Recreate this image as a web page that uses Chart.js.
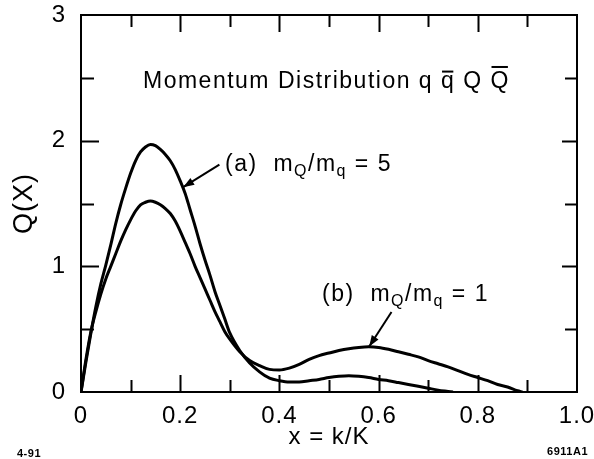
<!DOCTYPE html>
<html><head><meta charset="utf-8">
<script src="https://cdn.jsdelivr.net/npm/chart.js@4/dist/chart.umd.min.js"></script>
<style>html,body{margin:0;padding:0;background:#fff}#wrap{width:594px;height:459px;position:relative}</style>
</head><body><div id="wrap"><canvas id="c" width="594" height="459"></canvas></div>
<script>
// Curve (a): mQ/mq = 5
const xA = [0,0.01,0.02,0.03,0.04,0.05,0.06,0.07,0.08,0.09,0.10,0.11,0.12,0.13,0.14,0.15,0.16,0.17,0.18,0.19,0.20,0.21,0.22,0.23,0.24,0.25,0.26,0.27,0.28,0.29,0.30,0.32,0.34,0.36,0.38,0.40,0.42,0.44,0.46,0.48,0.50,0.52,0.54,0.56,0.58,0.60,0.62,0.64,0.66,0.68,0.70,0.72,0.74,0.75];
const qA = [0,0.24,0.47,0.68,0.86,1.01,1.17,1.34,1.49,1.62,1.74,1.84,1.91,1.95,1.97,1.96,1.93,1.89,1.84,1.77,1.68,1.58,1.45,1.32,1.18,1.05,0.93,0.80,0.69,0.58,0.47,0.33,0.23,0.16,0.11,0.09,0.08,0.08,0.09,0.10,0.115,0.125,0.13,0.125,0.115,0.10,0.09,0.075,0.06,0.045,0.03,0.015,0.005,0];
// Curve (b): mQ/mq = 1
const xB = [0,0.01,0.02,0.03,0.04,0.05,0.06,0.07,0.08,0.09,0.10,0.11,0.12,0.13,0.14,0.15,0.16,0.17,0.18,0.19,0.20,0.21,0.22,0.23,0.24,0.25,0.26,0.27,0.28,0.29,0.30,0.32,0.34,0.36,0.38,0.40,0.42,0.44,0.46,0.48,0.50,0.52,0.54,0.56,0.58,0.60,0.62,0.64,0.66,0.68,0.70,0.72,0.74,0.76,0.78,0.80,0.82,0.84,0.86,0.88,0.89];
const qB = [0,0.26,0.48,0.64,0.78,0.90,1.00,1.10,1.20,1.29,1.37,1.44,1.49,1.51,1.52,1.51,1.49,1.46,1.42,1.36,1.28,1.19,1.10,1.00,0.91,0.82,0.73,0.64,0.56,0.48,0.42,0.32,0.25,0.21,0.18,0.175,0.19,0.22,0.26,0.29,0.31,0.33,0.345,0.355,0.36,0.355,0.34,0.32,0.30,0.28,0.25,0.225,0.20,0.17,0.14,0.115,0.09,0.06,0.04,0.01,0];

const xTickValues = [0,0.2,0.4,0.6,0.8,1.0];
const xTickLabels = ['0','0.2','0.4','0.6','0.8','1.0'];
const xMinorTicks = [0.1,0.2,0.3,0.4,0.5,0.6,0.7,0.8,0.9];
const yTickValues = [0,1,2,3];
const yTickLabels = ['0','1','2','3'];
const yMinorTicks = [0.5,1,1.5,2,2.5];
const xTitle = 'x = k/K';
const yTitle = 'Q(X)';

const FONT = "'Liberation Sans', Arial, Helvetica, sans-serif";

function richText(ctx, x, y, parts, size, subSize, subDrop) {
  let cx = x;
  ctx.textBaseline = 'alphabetic';
  ctx.textAlign = 'left';
  ctx.letterSpacing = '1.5px';
  for (const p of parts) {
    const s = p.sub ? subSize : size;
    ctx.font = s + 'px ' + FONT;
    ctx.fillText(p.t, cx, y + (p.sub ? subDrop : 0));
    const w = ctx.measureText(p.t).width;
    if (p.bar) {
      const top = y - (p.cap ? size * 0.74 : size * 0.54) - 5;
      ctx.fillRect(cx + 1, top, w - 3, 2);
    }
    cx += w;
  }
}

function arrow(ctx, x0, y0, x1, y1) {
  ctx.beginPath(); ctx.moveTo(x0, y0); ctx.lineTo(x1, y1);
  ctx.lineWidth = 2; ctx.strokeStyle = '#000'; ctx.stroke();
  const a = Math.atan2(y1 - y0, x1 - x0), L = 11, W = 4;
  ctx.beginPath();
  ctx.moveTo(x1, y1);
  ctx.lineTo(x1 - L*Math.cos(a) + W*Math.sin(a), y1 - L*Math.sin(a) - W*Math.cos(a));
  ctx.lineTo(x1 - L*Math.cos(a) - W*Math.sin(a), y1 - L*Math.sin(a) + W*Math.cos(a));
  ctx.closePath(); ctx.fillStyle = '#000'; ctx.fill();
}

const spacing = {
  id: 'spacing',
  beforeDraw(chart) { chart.ctx.letterSpacing = '1px'; }
};

const decor = {
  id: 'decor',
  afterDatasetsDraw(chart) {
    const ctx = chart.ctx, ca = chart.chartArea;
    const xs = chart.scales.x, ys = chart.scales.y;
    ctx.save();
    ctx.fillStyle = '#000'; ctx.strokeStyle = '#000';
    // frame
    ctx.lineWidth = 2;
    ctx.strokeRect(ca.left, ca.top, ca.right - ca.left, ca.bottom - ca.top);
    // inward ticks
    ctx.beginPath();
    for (const v of xMinorTicks) {
      const px = Math.round(xs.getPixelForValue(v)) + 0.5;
      const major = Math.abs(v * 5 - Math.round(v * 5)) < 1e-6;
      const L = major ? 17 : 12;
      ctx.moveTo(px, ca.bottom); ctx.lineTo(px, ca.bottom - L);
      ctx.moveTo(px, ca.top); ctx.lineTo(px, ca.top + L);
    }
    for (const v of yMinorTicks) {
      const py = Math.round(ys.getPixelForValue(v)) + 0.5;
      const major = Math.abs(v - Math.round(v)) < 1e-6;
      ctx.moveTo(ca.left, py); ctx.lineTo(ca.left + (major ? 18 : 13), py);
      ctx.moveTo(ca.right, py); ctx.lineTo(ca.right - (major ? 15 : 12), py);
    }
    ctx.stroke();
    // annotations
    richText(ctx, 143, 88, [
      {t: 'Momentum Distribution q '}, {t: 'q', bar: true}, {t: ' Q '}, {t: 'Q', bar: true, cap: true}
    ], 23, 15, 0);
    richText(ctx, 225, 171, [
      {t: '(a)  m'}, {t: 'Q', sub: true}, {t: '/m'}, {t: 'q', sub: true}, {t: ' = 5'}
    ], 23, 16, 5);
    richText(ctx, 322, 301, [
      {t: '(b)  m'}, {t: 'Q', sub: true}, {t: '/m'}, {t: 'q', sub: true}, {t: ' = 1'}
    ], 23, 16, 5);
    arrow(ctx, xs.getPixelForValue(0.279), ys.getPixelForValue(1.81), xs.getPixelForValue(0.206), ys.getPixelForValue(1.63));
    arrow(ctx, xs.getPixelForValue(0.626), ys.getPixelForValue(0.636), xs.getPixelForValue(0.581), ys.getPixelForValue(0.362));
    // corner labels
    ctx.letterSpacing = '0.5px';
    ctx.font = 'bold 11px ' + FONT;
    ctx.textBaseline = 'middle';
    ctx.textAlign = 'left';
    ctx.fillText('4-91', 17, 454);
    ctx.textAlign = 'right';
    ctx.fillText('6911A1', 588, 452);
    ctx.restore();
  }
};

new Chart(document.getElementById('c'), {
  type: 'line',
  data: {
    datasets: [
      { label: '(a) mQ/mq = 5', data: xA.map((x, i) => ({x, y: qA[i]})), borderColor: '#000', borderWidth: 3, pointRadius: 0, cubicInterpolationMode: 'monotone', fill: false },
      { label: '(b) mQ/mq = 1', data: xB.map((x, i) => ({x, y: qB[i]})), borderColor: '#000', borderWidth: 3, pointRadius: 0, cubicInterpolationMode: 'monotone', fill: false }
    ]
  },
  options: {
    responsive: false, animation: false, devicePixelRatio: 1,
    layout: { padding: { left: 0, right: 17, top: 15, bottom: 0 } },
    plugins: { legend: { display: false }, tooltip: { enabled: false } },
    scales: {
      x: {
        type: 'linear', min: 0, max: 1,
        afterBuildTicks: s => { s.ticks = xTickValues.map(v => ({ value: v })); },
        afterFit: s => { s.height = 67; s.paddingLeft = 0; s.paddingRight = 0; },
        ticks: { callback: (v, i) => xTickLabels[i], font: { family: FONT, size: 24 }, color: '#000', padding: 10, maxRotation: 0, autoSkip: false },
        grid: { display: false, drawTicks: false, tickLength: 0 },
        border: { display: false },
        title: { display: true, text: xTitle, font: { family: FONT, size: 24 }, color: '#000', padding: { top: 0, bottom: 7 } }
      },
      y: {
        type: 'linear', min: 0, max: 3,
        afterBuildTicks: s => { s.ticks = yTickValues.map(v => ({ value: v })); },
        afterFit: s => { s.width = 81; s.paddingTop = 0; s.paddingBottom = 0; },
        ticks: { callback: (v, i) => yTickLabels[i], font: { family: FONT, size: 24 }, color: '#000', padding: 15, autoSkip: false },
        grid: { display: false, drawTicks: false, tickLength: 0 },
        border: { display: false },
        title: { display: true, text: yTitle, font: { family: FONT, size: 27 }, color: '#000', padding: { top: 8, bottom: 0 } }
      }
    }
  },
  plugins: [spacing, decor]
});
</script></body></html>
